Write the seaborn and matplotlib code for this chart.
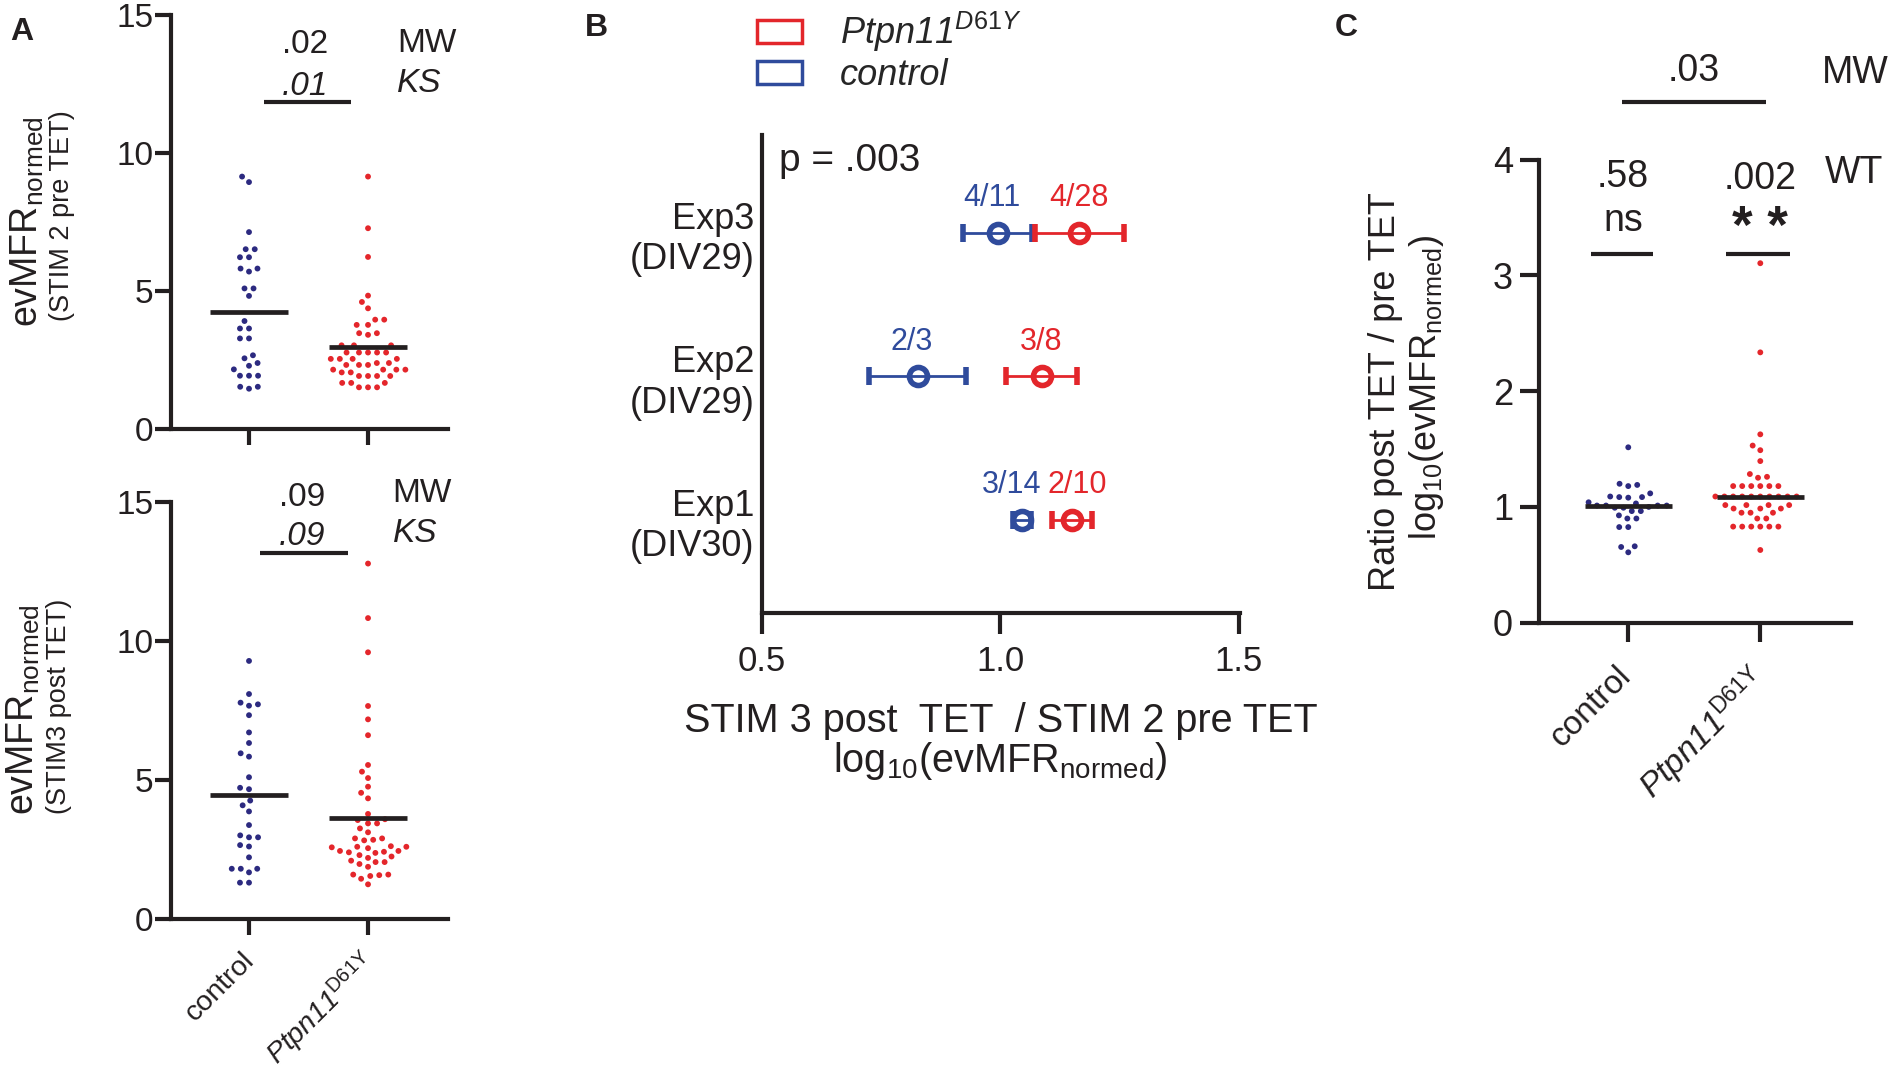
import numpy as np
import pandas as pd
import matplotlib
matplotlib.use("Agg")
import matplotlib.pyplot as plt
from matplotlib.patches import Patch
import seaborn as sns

### DATA ###############################################################################################################
groups = ["control", "Ptpn11"]
group_ticks = ["control", r"Ptpn11$^{\mathrm{D61Y}}$"]

# A top: evMFR normed, STIM 2 pre TET
pre_control = [9.15, 8.95, 7.14, 6.52, 6.52, 6.23, 6.23, 5.82, 5.71, 5.82, 5.10, 5.10, 4.83, 3.92, 3.65, 3.65,
               3.29, 3.29, 2.68, 2.57, 2.40, 2.30, 2.17, 1.94, 1.94, 1.94, 1.47, 1.54, 1.54]
pre_mutant = [9.15, 7.28, 6.24, 4.84, 4.61, 4.38, 3.97, 3.97, 3.78, 3.78, 3.48, 3.42, 3.48, 3.04, 3.04, 3.04,
              2.78, 2.78, 2.78, 2.78, 2.78, 2.55, 2.55, 2.55, 2.55, 2.40, 2.40, 2.33, 2.33, 2.33,
              2.16, 2.16, 2.16, 2.16, 2.06, 2.06, 1.93, 1.93, 1.93, 1.93, 1.68, 1.68, 1.68, 1.52, 1.52, 1.52]

# A bottom: evMFR normed, STIM 3 post TET
post_control = [9.28, 8.09, 7.78, 7.72, 7.67, 7.33, 6.71, 6.33, 5.96, 5.84, 5.10, 4.72, 4.67, 4.26, 4.09, 3.87,
                3.38, 3.01, 2.94, 2.94, 2.61, 2.66, 2.22, 1.81, 1.68, 1.81, 1.81, 1.31, 1.31]
post_mutant = [12.78, 10.82, 9.59, 7.66, 7.18, 6.61, 5.54, 5.30, 5.07, 4.76, 4.54, 4.34, 3.78, 3.59, 3.56, 3.44,
               3.44, 3.26, 3.12, 2.90, 2.90, 2.83, 2.85, 2.62, 2.60, 2.60, 2.58, 2.55, 2.45, 2.45, 2.42, 2.40,
               2.38, 2.30, 2.25, 2.20, 2.10, 2.05, 2.05, 1.98, 1.88, 1.60, 1.60, 1.58, 1.55, 1.45, 1.25]

# B: per experiment mean +- SEM of log10 ratio
exp_labels = ["Exp3\n(DIV29)", "Exp2\n(DIV29)", "Exp1\n(DIV30)"]
exp_ctrl_mean = [0.995, 0.827, 1.046]
exp_ctrl_sem = [0.073, 0.101, 0.018]
exp_mut_mean = [1.166, 1.087, 1.151]
exp_mut_sem = [0.093, 0.075, 0.042]
exp_ctrl_n = ["4/11", "2/3", "3/14"]
exp_mut_n = ["4/28", "3/8", "2/10"]

# C: ratio post / pre TET
ratio_control = [1.515, 1.20, 1.19, 1.18, 1.117, 1.09, 1.085, 1.08, 1.085, 1.04, 1.03, 1.012, 1.012, 1.012,
                 1.012, 1.0, 0.993, 0.993, 0.964, 0.964, 0.927, 0.90, 0.90, 0.826, 0.826, 0.66, 0.654, 0.608]
ratio_mutant = [3.105, 2.335, 1.627, 1.53, 1.49, 1.396, 1.284, 1.26, 1.252,
                1.18, 1.18, 1.18, 1.18, 1.18, 1.18,
                1.09, 1.09, 1.09, 1.09, 1.09, 1.09, 1.09, 1.09, 1.09, 1.09,
                1.016, 1.016, 1.016, 1.016, 0.986, 0.986, 0.986, 0.95, 0.95, 0.95,
                0.90, 0.90, 0.83, 0.83, 0.83, 0.83, 0.83, 0.83, 0.628]

### STYLE ##############################################################################################################
sns.set_style("ticks")
plt.rcParams["font.family"] = ["Liberation Sans", "DejaVu Sans"]
plt.rcParams["mathtext.fontset"] = "custom"
plt.rcParams["mathtext.rm"] = "Liberation Sans"
plt.rcParams["mathtext.it"] = "Liberation Sans:italic"
plt.rcParams["mathtext.bf"] = "Liberation Sans:bold"

INK = "#231f20"
DOT_BLUE = "#2c2a80"
DOT_RED = "#e4262b"
B_BLUE = "#2f4b9c"
B_RED = "#e3262b"

W, H = 1892, 1075
fig = plt.figure(figsize=(W / 100, H / 100), dpi=100)


def box(left, top, right, bottom):
    return fig.add_axes([left / W, 1 - bottom / H, (right - left) / W, (bottom - top) / H])


def ftext(x, y, s, **kw):
    kw.setdefault("color", INK)
    fig.text(x / W, 1 - y / H, s, **kw)


def dot_panel(ax, ctrl, mut, stat):
    df = pd.DataFrame({"group": ["control"] * len(ctrl) + ["Ptpn11"] * len(mut), "value": ctrl + mut})
    sns.swarmplot(data=df, x="group", y="value", hue="group", order=groups, hue_order=groups,
                  palette=[DOT_BLUE, DOT_RED], size=4.2, linewidth=2.0, edgecolor="none",
                  legend=False, ax=ax, zorder=2)
    center = df.groupby("group")["value"].agg(stat)
    for i, g in enumerate(groups):
        ax.plot([i - 0.33, i + 0.33], [center[g], center[g]], color=INK, lw=3.4,
                solid_capstyle="butt", zorder=4)
    ax.set_xlabel("")
    ax.set_ylabel("")
    sns.despine(ax=ax)
    for s in ["left", "bottom"]:
        ax.spines[s].set_linewidth(3)
        ax.spines[s].set_color(INK)


def sig_bar(ax, x0, x1, y):
    ax.plot([x0, x1], [y, y], color=INK, lw=3, solid_capstyle="butt", clip_on=False)


def rotated_ticks(ax, size, dx, dy):
    # category names under the ticks, slanted 45 degrees
    ax.set_xticks([0, 1], ["", ""])
    for i, name in enumerate(group_ticks):
        ax.annotate(name, (i, 0), xycoords=ax.get_xaxis_transform(), xytext=(dx, dy),
                    textcoords="offset points", rotation=45, rotation_mode="anchor",
                    ha="right", va="top", fontsize=size, color=INK,
                    fontstyle="italic" if i == 1 else "normal", annotation_clip=False)


### PANEL A ############################################################################################################
axA1 = box(170.7, 15, 448, 429.3)
dot_panel(axA1, pre_control, pre_mutant, "mean")
axA1.set_xlim(-0.658, 1.672)
axA1.set_ylim(0, 15)
axA1.set_yticks([0, 5, 10, 15])
axA1.set_xticks([0, 1], ["", ""])
axA1.tick_params(length=11.5, width=3, color=INK, labelcolor=INK, labelsize=24, pad=1)
sig_bar(axA1, 0.126, 0.857, 11.85)
axA1.text(0.47, 13.61, ".02", ha="center", va="baseline", fontsize=24, color=INK)
axA1.text(0.47, 12.10, ".01", ha="center", va="baseline", fontsize=24, style="italic", color=INK)
axA1.text(1.244, 13.67, "MW", ha="left", va="baseline", fontsize=24, color=INK)
axA1.text(1.244, 12.22, "KS", ha="left", va="baseline", fontsize=24, style="italic", color=INK)

axA2 = box(170.7, 501.8, 448, 919.1)
dot_panel(axA2, post_control, post_mutant, "mean")
axA2.set_xlim(-0.658, 1.672)
axA2.set_ylim(0, 15)
axA2.set_yticks([0, 5, 10, 15])
axA2.tick_params(length=11.5, width=3, color=INK, labelcolor=INK, labelsize=24, pad=1)
rotated_ticks(axA2, 20.5, -6, -20)
sig_bar(axA2, 0.092, 0.83, 13.17)
axA2.text(0.443, 14.86, ".09", ha="center", va="baseline", fontsize=24, color=INK)
axA2.text(0.443, 13.45, ".09", ha="center", va="baseline", fontsize=24, style="italic", color=INK)
axA2.text(1.207, 15.0, "MW", ha="left", va="baseline", fontsize=24, color=INK)
axA2.text(1.207, 13.57, "KS", ha="left", va="baseline", fontsize=24, style="italic", color=INK)

ftext(38, 222, r"evMFR$_{\mathrm{normed}}$", rotation=90, rotation_mode="anchor",
      ha="center", va="baseline", fontsize=27)
ftext(69, 216, "(STIM 2 pre TET)", rotation=90, rotation_mode="anchor", ha="center", va="baseline", fontsize=19.5)
ftext(34, 710, r"evMFR$_{\mathrm{normed}}$", rotation=90, rotation_mode="anchor",
      ha="center", va="baseline", fontsize=27)
ftext(66, 706, "(STIM3 post TET)", rotation=90, rotation_mode="anchor", ha="center", va="baseline", fontsize=19.5)

### PANEL B ############################################################################################################
axB = box(761.5, 135, 1240, 613.3)
ypos = np.arange(len(exp_labels))
for means, sems, counts, col, dx in [(exp_ctrl_mean, exp_ctrl_sem, exp_ctrl_n, B_BLUE, -6),
                                     (exp_mut_mean, exp_mut_sem, exp_mut_n, B_RED, 0)]:
    axB.errorbar(means, ypos, xerr=sems, fmt="o", ms=13, mfc="none", mec=col, mew=4,
                 ecolor=col, elinewidth=2, capsize=6.5, capthick=2, zorder=3)
    for k, (m, n) in enumerate(zip(means, counts)):
        shift = dx + (9 if (k == 2 and col == B_RED) else 0) - (4 if k == 2 else 0)
        axB.annotate(n, (m, ypos[k]), xytext=(shift * 0.72, 25), textcoords="offset points",
                     ha="center", va="center", fontsize=22, color=col)
axB.set_xlim(0.5, 1.503)
axB.set_ylim(2.65, -0.68)
axB.set_xticks([0.5, 1.0, 1.5], ["0.5", "1.0", "1.5"])
axB.set_yticks(ypos, exp_labels)
sns.despine(ax=axB)
for s in ["left", "bottom"]:
    axB.spines[s].set_linewidth(3)
    axB.spines[s].set_color(INK)
axB.tick_params(axis="x", length=15, width=3, color=INK, labelcolor=INK, labelsize=25, pad=8)
axB.tick_params(axis="y", length=0, labelcolor=INK, labelsize=26, pad=5)
axB.text(0.5375, -0.432, "p = .003", ha="left", va="baseline", fontsize=28, color=INK)
ftext(1001, 731.7, "STIM 3 post  TET  / STIM 2 pre TET", ha="center", va="baseline", fontsize=28.5)
ftext(1000, 771.7, r"log$_{10}$(evMFR$_{\mathrm{normed}}$)", ha="center", va="baseline", fontsize=28.5)

legend_handles = [Patch(facecolor="none", edgecolor=B_RED, linewidth=2.5, label=r"Ptpn11$^{\mathit{D61Y}}$"),
                  Patch(facecolor="none", edgecolor=B_BLUE, linewidth=2.5, label="control")]
fig.legend(handles=legend_handles, loc="upper left", bbox_to_anchor=(757 / W, 1 - 10 / H), frameon=False,
           prop={"style": "italic", "size": 26}, handlelength=1.25, handleheight=0.6, handletextpad=1.05,
           labelspacing=0.1, borderpad=0, borderaxespad=0)

### PANEL C ############################################################################################################
axC = box(1539.4, 159.6, 1851, 622.7)
dot_panel(axC, ratio_control, ratio_mutant, "median")
axC.set_xlim(-0.673, 1.687)
axC.set_ylim(0, 4)
axC.set_yticks([0, 1, 2, 3, 4])
axC.tick_params(length=14, width=3, color=INK, labelcolor=INK, labelsize=26, pad=5)
rotated_ticks(axC, 24, -9, -27)
sig_bar(axC, -0.048, 1.04, 4.50)
sig_bar(axC, -0.283, 0.19, 3.187)
sig_bar(axC, 0.74, 1.223, 3.187)
axC.text(0.498, 4.68, ".03", ha="center", va="baseline", fontsize=27, color=INK)
axC.text(1.466, 4.66, "MW", ha="left", va="baseline", fontsize=27, color=INK)
axC.text(-0.04, 3.76, ".58", ha="center", va="baseline", fontsize=27, color=INK)
axC.text(-0.04, 3.38, "ns", ha="center", va="baseline", fontsize=27, color=INK)
axC.text(0.998, 3.75, ".002", ha="center", va="baseline", fontsize=27, color=INK)
axC.text(0.998, 3.40, "* *", ha="center", va="center", fontsize=38, weight="bold", color=INK)
axC.text(1.49, 3.80, "WT", ha="left", va="baseline", fontsize=27, color=INK)
ftext(1395, 391.8, "Ratio post TET / pre TET", rotation=90, rotation_mode="anchor",
      ha="center", va="baseline", fontsize=26)
ftext(1436.4, 387.6, r"log$_{10}$(evMFR$_{\mathrm{normed}}$)", rotation=90, rotation_mode="anchor",
      ha="center", va="baseline", fontsize=26)

### PANEL LETTERS ######################################################################################################
ftext(22, 32, "A", ha="center", va="center", fontsize=23, weight="bold")
ftext(596, 28, "B", ha="center", va="center", fontsize=23, weight="bold")
ftext(1346, 28, "C", ha="center", va="center", fontsize=23, weight="bold")

fig.savefig("out.png", dpi=100, facecolor="white")
